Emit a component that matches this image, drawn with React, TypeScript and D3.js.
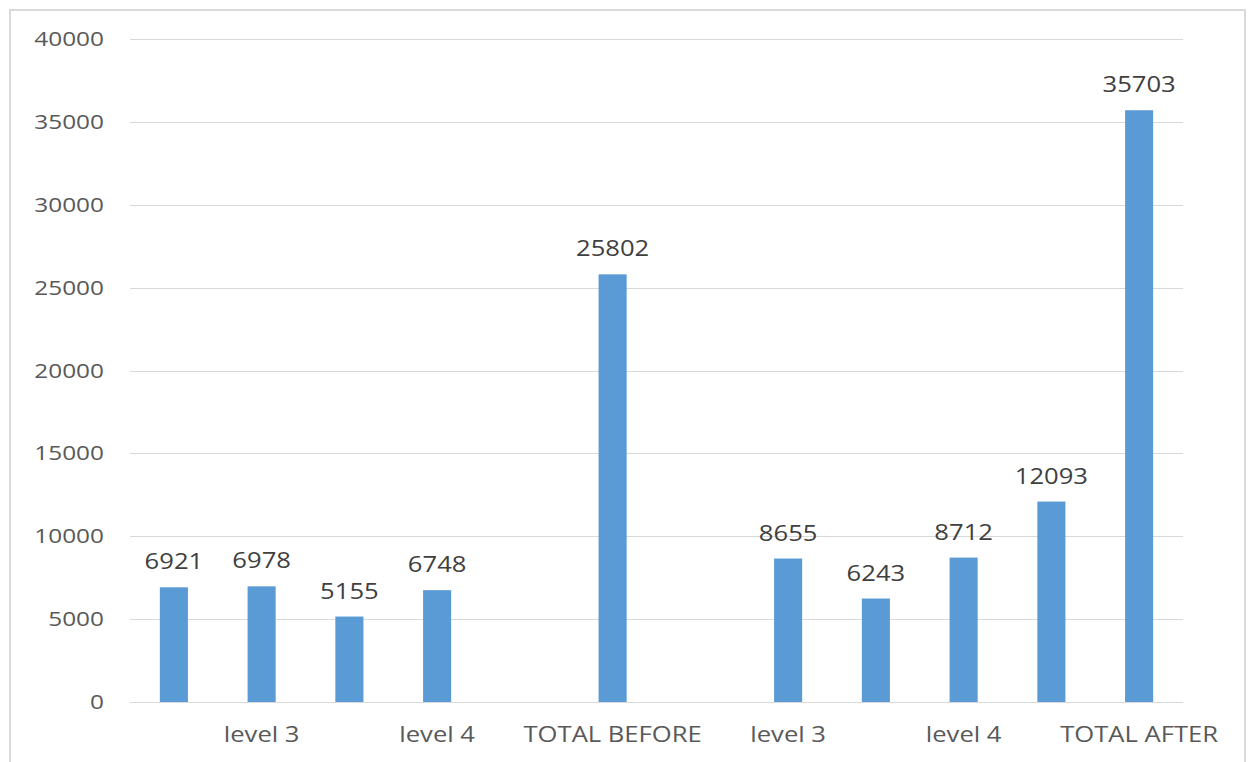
import React from "react";
import * as d3 from "d3";

// Category slots along the x axis; blank entries carry no printed label.
const categoryLabels: string[] = [
  "", "level 3", "", "level 4", "", "TOTAL BEFORE",
  "", "level 3", "", "level 4", "", "TOTAL AFTER",
];

// One value per slot; null means the slot has no bar.
const values: (number | null)[] = [
  6921, 6978, 5155, 6748, null, 25802,
  null, 8655, 6243, 8712, 12093, 35703,
];

const yTicks: number[] = [0, 5000, 10000, 15000, 20000, 25000, 30000, 35000, 40000];

const WIDTH = 1252;
const HEIGHT = 762;
const PLOT = { left: 130, right: 1183, top: 39, bottom: 702 };
const FONT = "'Open Sans', 'Noto Sans', sans-serif";
const SX = 1.22; // horizontal text stretch

export default function App() {
  const x = d3
    .scaleBand<number>()
    .domain(d3.range(categoryLabels.length))
    .range([PLOT.left, PLOT.right])
    .paddingInner(0.68)
    .paddingOuter(0.34);

  const y = d3.scaleLinear().domain([0, 40000]).range([PLOT.bottom, PLOT.top]);

  return (
    <svg
      width={WIDTH}
      height={HEIGHT}
      style={{ position: "absolute", left: 0, top: 0, background: "#fff" }}
    >
      <rect x={0} y={0} width={WIDTH} height={HEIGHT} fill="#ffffff" />
      {/* chart frame */}
      <rect x={10} y={10} width={1235} height={800} fill="none" stroke="#d9d9d9" strokeWidth={2} />

      {/* gridlines and y tick labels */}
      {yTicks.map((t) => (
        <g key={t}>
          <line
            x1={PLOT.left}
            x2={PLOT.right}
            y1={Math.round(y(t)) + 0.5}
            y2={Math.round(y(t)) + 0.5}
            stroke="#d9d9d9"
            strokeWidth={1}
          />
          <text
            transform={`translate(104, ${y(t) + 7}) scale(${SX}, 1)`}
            textAnchor="end"
            fontFamily={FONT}
            fontSize={20}
            fill="#595959"
          >
            {t}
          </text>
        </g>
      ))}

      {/* bars */}
      {values.map((v, i) =>
        v == null ? null : (
          <rect
            key={`b${i}`}
            x={x(i)!}
            y={y(v)}
            width={x.bandwidth()}
            height={y(0) - y(v)}
            fill="#5b9bd5"
          />
        )
      )}

      {/* value labels */}
      {values.map((v, i) =>
        v == null ? null : (
          <text
            key={`v${i}`}
            transform={`translate(${x(i)! + x.bandwidth() / 2}, ${y(v) - 18}) scale(${SX}, 1)`}
            textAnchor="middle"
            fontFamily={FONT}
            fontSize={21}
            fill="#404040"
          >
            {v}
          </text>
        )
      )}

      {/* category labels */}
      {categoryLabels.map((c, i) =>
        c ? (
          <text
            key={`c${i}`}
            transform={`translate(${x(i)! + x.bandwidth() / 2}, 742) scale(${SX}, 1)`}
            textAnchor="middle"
            fontFamily={FONT}
            fontSize={21}
            fill="#595959"
          >
            {c}
          </text>
        ) : null
      )}
    </svg>
  );
}
